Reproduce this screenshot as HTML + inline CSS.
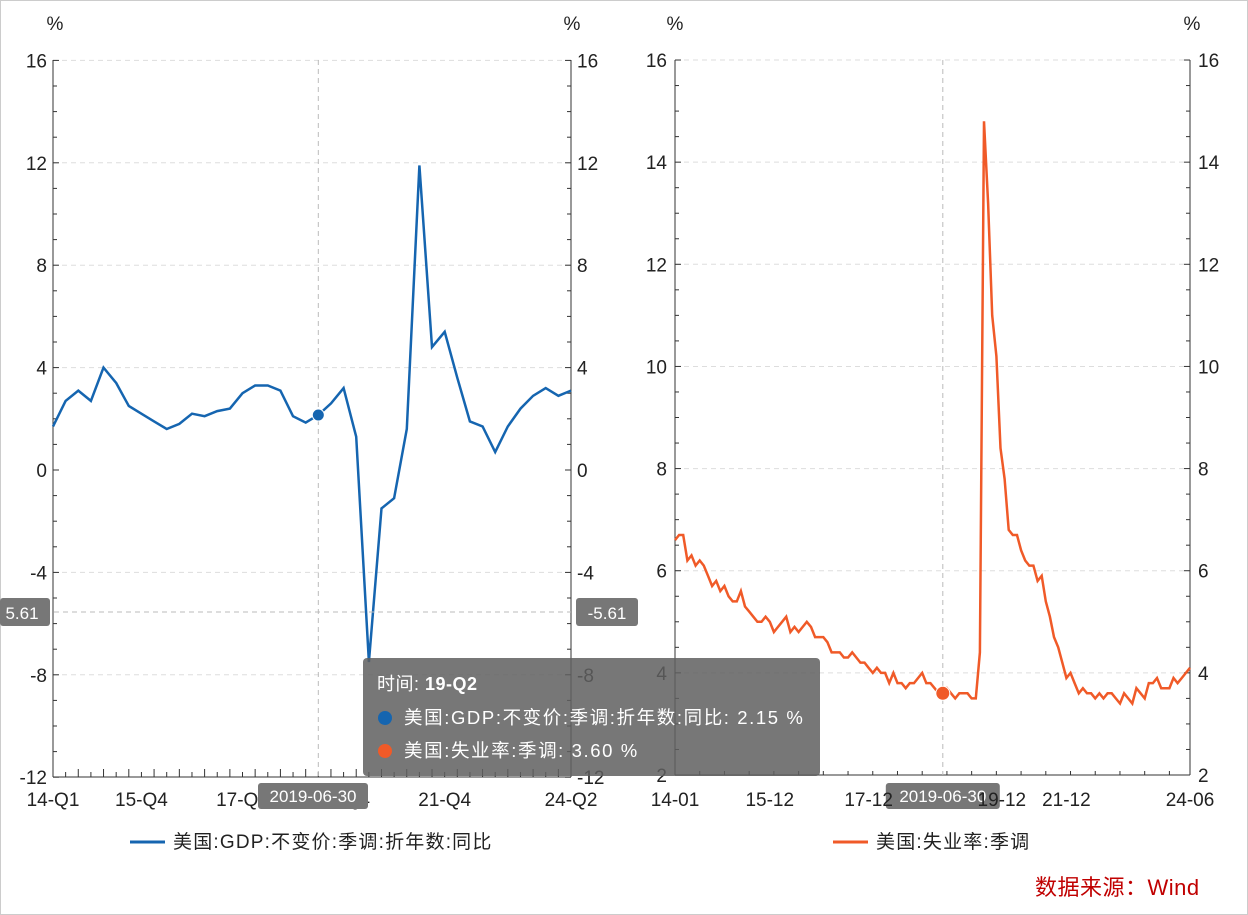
<!DOCTYPE html>
<html><head><meta charset="utf-8"><style>
body{margin:0;background:#fff}
svg{display:block;font-family:"Liberation Sans","Noto Sans CJK SC",sans-serif}
</style></head><body>
<svg id="s" width="1248" height="915" xmlns="http://www.w3.org/2000/svg">
<rect x="0.5" y="0.5" width="1247" height="914" fill="#fff" stroke="#ccc"/>
<g id="g"></g>
<rect x="363" y="658" width="457" height="118" rx="4" fill="#5f5f5f" opacity="0.85"/>
<text x="377" y="690" font-size="18" fill="#fff" letter-spacing="0.5">时间: <tspan font-weight="bold">19-Q2</tspan></text>
<circle cx="385" cy="718" r="7" fill="#1565b0"/>
<text x="404" y="724" font-size="18.5" fill="#fff" letter-spacing="1.6">美国:GDP:不变价:季调:折年数:同比: 2.15  %</text>
<circle cx="385" cy="751" r="7" fill="#f05a28"/>
<text x="404" y="757" font-size="18.5" fill="#fff" letter-spacing="1.6">美国:失业率:季调: 3.60  %</text>
<text x="1035" y="895" font-size="22" fill="#c00000" letter-spacing="0.5">数据来源：Wind</text>
</svg>
<script>
const g=document.getElementById('g');let h='';
function L(x1,y1,x2,y2,c,w,d){h+=`<line x1="${x1}" y1="${y1}" x2="${x2}" y2="${y2}" stroke="${c}" stroke-width="${w||1}" ${d?'stroke-dasharray="'+d+'"':''}/>`}
function T(x,y,t,a,s,c,ls){h+=`<text x="${x}" y="${y}" font-size="${s||18}" fill="${c||'#222'}" text-anchor="${a||'start'}" ${ls?'letter-spacing="'+ls+'"':''}>${t}</text>`}
const lx0=53,lx1=571,ly=v=>470-v*25.6;
[16,12,8,4,-4,-8].forEach(v=>L(lx0,ly(v),lx1,ly(v),'#ddd',1,'5,4'));
L(lx0,60,lx0,777,'#333');L(lx1,60,lx1,777,'#333');L(lx0,777,lx1,777,'#333');
for(let v=-12;v<=16;v++){L(lx0,ly(v),lx0+(v%4==0?6:4),ly(v),'#333');L(lx1,ly(v),lx1-(v%4==0?6:4),ly(v),'#333');}
[16,12,8,4,0,-4,-8,-12].forEach(v=>{T(lx0-6,ly(v)+7,v,'end',19);T(lx1+6,ly(v)+7,v,'start',19)});
T(55,30,'%','middle',19);T(572,30,'%','middle',19);
const gd=[1.7,2.7,3.1,2.7,4.0,3.4,2.5,2.2,1.9,1.6,1.8,2.2,2.1,2.3,2.4,3.0,3.3,3.3,3.1,2.1,1.85,2.15,2.6,3.2,1.3,-7.5,-1.5,-1.1,1.6,11.9,4.8,5.4,3.6,1.9,1.7,0.7,1.7,2.4,2.9,3.2,2.9,3.1];
const ls=(lx1-lx0)/41;
for(let i=0;i<42;i++)L(lx0+i*ls,777,lx0+i*ls,i%2?772:769,'#333');
h+=`<polyline fill="none" stroke="#1565b0" stroke-width="2.5" points="${gd.map((v,i)=>(lx0+i*ls).toFixed(1)+','+ly(v).toFixed(1)).join(' ')}"/>`;
const qx=lx0+21*ls;L(qx,60,qx,777,'#bbb',1,'5,4');L(0,612,lx1,612,'#bbb',1,'5,4');
h+=`<circle cx="${qx}" cy="${ly(2.15)}" r="6" fill="#1565b0" stroke="#fff" stroke-width="1"/>`;
[['14-Q1',0],['15-Q4',7],['17-Q4',15],['19-Q4',23],['21-Q4',31],['24-Q2',41]].forEach(([t,i])=>T(lx0+i*ls,806,t,'middle',19));
h+=`<rect x="0" y="598" width="50" height="28" rx="3" fill="#777"/><rect x="576" y="598" width="62" height="28" rx="3" fill="#777"/><rect x="258" y="783" width="110" height="26" rx="3" fill="#777"/>`;
T(22,619,'5.61','middle',17,'#fff');T(607,619,'-5.61','middle',17,'#fff');T(313,802,'2019-06-30','middle',17,'#fff');
L(130,842,165,842,'#1565b0',3);T(173,848,'美国:GDP:不变价:季调:折年数:同比','start',19,'#222',1.2);
const rx0=675,rx1=1190,ry=v=>775-(v-2)*51.07;
[16,14,12,10,8,6,4].forEach(v=>L(rx0,ry(v),rx1,ry(v),'#ddd',1,'5,4'));
L(rx0,60,rx0,775,'#333');L(rx1,60,rx1,775,'#333');L(rx0,775,rx1,775,'#333');
for(let v=2;v<=16;v+=0.5){const m=v%2==0;L(rx0,ry(v),rx0+(m?6:4),ry(v),'#333');L(rx1,ry(v),rx1-(m?6:4),ry(v),'#333');}
[16,14,12,10,8,6,4,2].forEach(v=>{T(rx0-8,ry(v)+7,v,'end',19);T(rx1+8,ry(v)+7,v,'start',19)});
T(675,30,'%','middle',19);T(1192,30,'%','middle',19);
const u=[6.6,6.7,6.7,6.2,6.3,6.1,6.2,6.1,5.9,5.7,5.8,5.6,5.7,5.5,5.4,5.4,5.6,5.3,5.2,5.1,5.0,5.0,5.1,5.0,4.8,4.9,5.0,5.1,4.8,4.9,4.8,4.9,5.0,4.9,4.7,4.7,4.7,4.6,4.4,4.4,4.4,4.3,4.3,4.4,4.3,4.2,4.2,4.1,4.0,4.1,4.0,4.0,3.8,4.0,3.8,3.8,3.7,3.8,3.8,3.9,4.0,3.8,3.8,3.7,3.6,3.6,3.7,3.6,3.5,3.6,3.6,3.6,3.5,3.5,4.4,14.8,13.2,11.0,10.2,8.4,7.8,6.8,6.7,6.7,6.4,6.2,6.1,6.1,5.8,5.9,5.4,5.1,4.7,4.5,4.2,3.9,4.0,3.8,3.6,3.7,3.6,3.6,3.5,3.6,3.5,3.6,3.6,3.5,3.4,3.6,3.5,3.4,3.7,3.6,3.5,3.8,3.8,3.9,3.7,3.7,3.7,3.9,3.8,3.9,4.0,4.1];
const rs=(rx1-rx0)/(u.length-1);
for(let i=0;i<u.length;i+=6)L(rx0+i*rs,775,rx0+i*rs,i%12==11?768:771,'#333');
h+=`<polyline fill="none" stroke="#f05a28" stroke-width="2.5" points="${u.map((v,i)=>(rx0+i*rs).toFixed(1)+','+ry(v).toFixed(1)).join(' ')}"/>`;
const mx=rx0+65*rs;L(mx,60,mx,775,'#bbb',1,'5,4');
h+=`<circle cx="${mx}" cy="${ry(3.6)}" r="7" fill="#f05a28" stroke="#fff" stroke-width="1"/>`;
h+=`<rect x="${mx-57}" y="783" width="114" height="26" rx="3" fill="#777"/>`;T(mx,802,'2019-06-30','middle',17,'#fff');
[['14-01',0],['15-12',23],['17-12',47],['21-12',95],['24-06',125]].forEach(([t,i])=>T(rx0+i*rs,806,t,'middle',19));
T(rx0+71*rs+10,806,'19-12','start',19);
L(833,842,868,842,'#f05a28',3);T(876,848,'美国:失业率:季调','start',19,'#222',1.2);
g.innerHTML=h;
</script>
</body></html>
